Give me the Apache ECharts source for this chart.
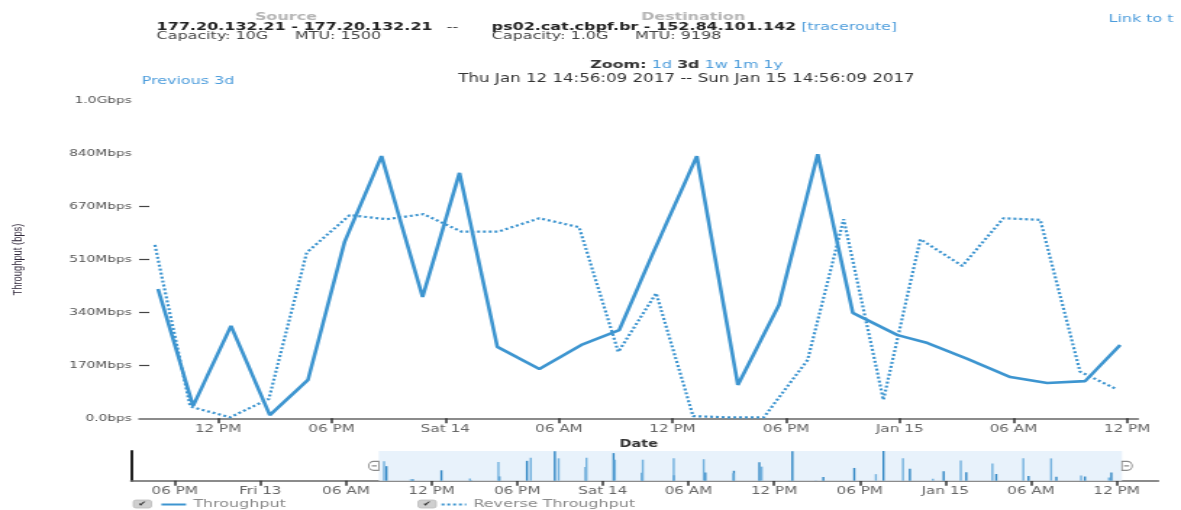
<!DOCTYPE html>
<html>
<head>
<meta charset="utf-8">
<title>Throughput</title>
<script src="https://cdn.jsdelivr.net/npm/echarts@6/dist/echarts.min.js"></script>
<style>
  html, body { margin: 0; padding: 0; background: #fff; overflow: hidden; }
  #wrap { width: 815px; height: 510px; transform: scaleX(1.44908); transform-origin: 0 0; }
  #chart { width: 815px; height: 510px; }
</style>
</head>
<body>
<div id="wrap"><div id="chart"></div></div>
<script>
// Throughput test results (Mbps), forward direction
const throughputTimes = [
  '2017-01-13 08:50', '2017-01-13 10:41', '2017-01-13 12:41', '2017-01-13 14:44',
  '2017-01-13 16:45', '2017-01-13 18:41', '2017-01-13 20:38', '2017-01-13 22:48',
  '2017-01-14 00:45', '2017-01-14 02:45', '2017-01-14 04:58', '2017-01-14 07:11',
  '2017-01-14 09:11', '2017-01-14 10:58', '2017-01-14 13:17', '2017-01-14 15:27',
  '2017-01-14 17:37', '2017-01-14 19:40', '2017-01-14 21:31', '2017-01-14 23:53',
  '2017-01-15 01:28', '2017-01-15 03:34', '2017-01-15 05:50', '2017-01-15 07:47',
  '2017-01-15 09:47', '2017-01-15 11:38'
];
const throughputMbps = [407, 39, 291, 10, 121, 556, 826, 382, 773, 225, 155, 231, 278,
  520, 826, 105, 357, 832, 332, 262, 237, 187, 130, 111, 117, 231];

// Reverse direction results (Mbps)
const reverseTimes = [
  '2017-01-13 08:40', '2017-01-13 10:32', '2017-01-13 12:38', '2017-01-13 14:41',
  '2017-01-13 16:41', '2017-01-13 18:57', '2017-01-13 20:54', '2017-01-13 22:51',
  '2017-01-14 00:51', '2017-01-14 02:48', '2017-01-14 04:58', '2017-01-14 07:04',
  '2017-01-14 09:08', '2017-01-14 11:08', '2017-01-14 13:05', '2017-01-14 14:55',
  '2017-01-14 16:49', '2017-01-14 19:08', '2017-01-14 21:02', '2017-01-14 23:08',
  '2017-01-15 01:05', '2017-01-15 03:18', '2017-01-15 05:28', '2017-01-15 07:25',
  '2017-01-15 09:31', '2017-01-15 11:28'
];
const reverseMbps = [546, 37, 3, 61, 522, 640, 627, 643, 588, 588, 630, 602, 209,
  394, 7, 3, 3, 184, 627, 58, 564, 480, 630, 625, 147, 91];

// Y axis: 0 .. 1 Gbps in six steps
const yMaxMbps = 1000;
const yTickLabels = ['0.0bps', '170Mbps', '340Mbps', '510Mbps', '670Mbps', '840Mbps', '1.0Gbps'];
const yTickMarkSteps = [1, 2, 3, 4];

// Main (zoomed) time axis
const mainRange = ['2017-01-13 07:50', '2017-01-15 12:35'];
const mainTickTimes = ['2017-01-13 12:00', '2017-01-13 18:00', '2017-01-14 00:00', '2017-01-14 06:00',
  '2017-01-14 12:00', '2017-01-14 18:00', '2017-01-15 00:00', '2017-01-15 06:00', '2017-01-15 12:00'];
const mainTickLabels = ['12 PM', '06 PM', 'Sat 14', '06 AM', '12 PM', '06 PM', 'Jan 15', '06 AM', '12 PM'];

// Overview (navigator) time axis and selected window
const navRange = ['2017-01-12 14:56', '2017-01-15 14:56'];
const navWindow = ['2017-01-13 08:18', '2017-01-15 12:23'];
const navTickTimes = ['2017-01-12 18:00', '2017-01-13 00:00', '2017-01-13 06:00', '2017-01-13 12:00',
  '2017-01-13 18:00', '2017-01-14 00:00', '2017-01-14 06:00', '2017-01-14 12:00', '2017-01-14 18:00',
  '2017-01-15 00:00', '2017-01-15 06:00', '2017-01-15 12:00'];
const navTickLabels = ['06 PM', 'Fri 13', '06 AM', '12 PM', '06 PM', 'Sat 14', '06 AM', '12 PM',
  '06 PM', 'Jan 15', '06 AM', '12 PM'];

// timestamps in epoch milliseconds (UTC)
function toMs(s) {
  const [d, t] = s.split(' ');
  const [Y, M, D] = d.split('-').map(Number);
  const [h, m] = t.split(':').map(Number);
  return Date.UTC(Y, M - 1, D, h, m, 0);
}
const pairs = (times, vals) => times.map((t, i) => [toMs(t), vals[i]]);

const mainTickMs = mainTickTimes.map(toMs);
const navTickMs = navTickTimes.map(toMs);
const yStep = yMaxMbps / 6;
const labelAt = (ticks, labels) => v => {
  const i = ticks.findIndex(t => Math.abs(t - v) < 1000);
  return i < 0 ? '' : labels[i];
};

const FONT = 'DejaVu Sans';
const BLUE = '#3d95d0';
const LINK = '#4d9ddc';
const navMid = Math.max(...throughputMbps, ...reverseMbps) / 2;

const chart = echarts.init(document.getElementById('chart'), null, { renderer: 'canvas' });

const txt = (x, y, text, o = {}) => ({
  type: 'text', x, y, silent: true,
  style: Object.assign({ text, fill: '#333', fontFamily: FONT, fontSize: 11, verticalAlign: 'middle' }, o)
});
const checkbox = x => ({
  type: 'group', x, y: 500, silent: true,
  children: [
    { type: 'rect', shape: { x: 0, y: 0, width: 12.5, height: 8, r: 2 }, style: { fill: '#cfcfcf', stroke: '#bdbdbd', lineWidth: 0.8 } },
    { type: 'text', x: 6.25, y: 4.2, style: { text: '✔', fill: '#333', fontSize: 7, fontFamily: FONT, align: 'center', verticalAlign: 'middle' } }
  ]
});
const legendBase = {
  top: 499, itemWidth: 17, itemHeight: 10, padding: 0,
  itemStyle: { opacity: 0 },
  textStyle: { color: '#8a8a8a', fontSize: 11, fontFamily: FONT }
};

chart.setOption({
  animation: false,
  backgroundColor: '#fff',
  textStyle: { fontFamily: FONT },
  grid: [
    { left: 94.5, right: 29.6, top: 100.8, bottom: 91.7 },
    { left: 90.4, right: 15.6, top: 451, bottom: 29.3 }
  ],
  legend: [
    Object.assign({ data: ['Throughput'], left: 110.4 }, legendBase),
    Object.assign({ data: ['Reverse Throughput'], left: 303.7 }, legendBase)
  ],
  xAxis: [
    {
      type: 'value', gridIndex: 0,
      min: toMs(mainRange[0]), max: toMs(mainRange[1]),
      name: 'Date', nameLocation: 'middle', nameGap: 14,
      nameTextStyle: { fontWeight: 'bold', fontSize: 10, color: '#333', fontFamily: FONT },
      axisLine: { onZero: false, lineStyle: { color: '#666', width: 1.5 } },
      axisTick: { customValues: mainTickMs, length: 5, lineStyle: { color: '#333', width: 1.5 } },
      axisLabel: {
        customValues: mainTickMs, margin: 5, fontSize: 10.5, color: '#666', fontFamily: FONT,
        formatter: labelAt(mainTickMs, mainTickLabels)
      },
      splitLine: { show: false }
    },
    {
      type: 'value', gridIndex: 1,
      min: toMs(navRange[0]), max: toMs(navRange[1]),
      axisLine: { onZero: false, lineStyle: { color: '#666', width: 1.5 } },
      axisTick: { customValues: navTickMs, length: 5, lineStyle: { color: '#333', width: 1.5 } },
      axisLabel: {
        customValues: navTickMs, margin: 5, fontSize: 10.5, color: '#666', fontFamily: FONT,
        formatter: labelAt(navTickMs, navTickLabels)
      },
      splitLine: { show: false }
    }
  ],
  yAxis: [
    {
      type: 'value', gridIndex: 0, min: 0, max: yMaxMbps, interval: yStep,
      name: 'Throughput (bps)', nameLocation: 'middle', nameGap: 79, nameRotate: 90,
      nameTextStyle: { fontSize: 9.4, color: '#2e2638', fontFamily: 'Liberation Sans' },
      axisLine: { show: false },
      axisTick: {
        show: true, inside: true, length: 7,
        customValues: yTickMarkSteps.map(k => k * yStep),
        lineStyle: { color: '#444', width: 1.2 }
      },
      axisLabel: {
        margin: 5, fontSize: 9.5, color: '#555', fontFamily: FONT,
        formatter: v => yTickLabels[Math.round(v / yStep)]
      },
      splitLine: { show: false }
    },
    {
      type: 'value', gridIndex: 1, min: 0, max: 'dataMax',
      axisLine: { show: true, onZero: false, lineStyle: { color: '#222', width: 2 } },
      axisTick: { show: false }, axisLabel: { show: false }, splitLine: { show: false }
    }
  ],
  series: [
    {
      name: 'Throughput', type: 'line', xAxisIndex: 0, yAxisIndex: 0,
      data: pairs(throughputTimes, throughputMbps),
      showSymbol: false, color: BLUE,
      lineStyle: { color: BLUE, width: 2.6 }
    },
    {
      name: 'Reverse Throughput', type: 'line', xAxisIndex: 0, yAxisIndex: 0,
      data: pairs(reverseTimes, reverseMbps),
      showSymbol: false, color: BLUE,
      lineStyle: { color: BLUE, width: 2.2, type: [2, 2] }
    },
    {
      name: 'Throughput overview', type: 'bar', xAxisIndex: 1, yAxisIndex: 1,
      data: pairs(throughputTimes, throughputMbps),
      barWidth: 1.4, barGap: '-100%', color: '#2f86c4', z: 3,
      markArea: {
        silent: true,
        itemStyle: { color: '#e8f2fb' },
        data: [[{ xAxis: toMs(navWindow[0]) }, { xAxis: toMs(navWindow[1]) }]]
      },
      markPoint: {
        silent: true,
        symbolSize: [7, 9],
        itemStyle: { color: '#fff', borderColor: '#8c8c8c', borderWidth: 1 },
        label: { show: false },
        data: [
          { coord: [toMs(navWindow[0]), navMid], symbol: 'path://M10,0 L5,0 A5,5 0 0 0 5,10 L10,10 Z M3,5 L8,5', symbolOffset: [-3.5, 0] },
          { coord: [toMs(navWindow[1]), navMid], symbol: 'path://M0,0 L5,0 A5,5 0 0 1 5,10 L0,10 Z M2,5 L7,5', symbolOffset: [3.5, 0] }
        ]
      }
    },
    {
      name: 'Reverse overview', type: 'bar', xAxisIndex: 1, yAxisIndex: 1,
      data: pairs(reverseTimes, reverseMbps),
      barWidth: 1.4, barGap: '-100%', color: '#72b1de', z: 3
    }
  ],
  graphic: [
    txt(197.3, 16.7, 'Source', { fill: '#b5b5b5', fontWeight: 'bold', align: 'center' }),
    txt(478.3, 16.7, 'Destination', { fill: '#b5b5b5', fontWeight: 'bold', align: 'center' }),
    txt(108.1, 26.7, '177.20.132.21 - 177.20.132.21', { fill: '#222', fontWeight: 'bold' }),
    txt(308.3, 26.7, '--', { fill: '#333' }),
    txt(339.3, 26.7, '{b|ps02.cat.cbpf.br - 152.84.101.142} {l|[traceroute]}', {
      rich: {
        b: { fontFamily: FONT, fontSize: 11, fontWeight: 'bold', fill: '#222' },
        l: { fontFamily: FONT, fontSize: 11, fill: LINK }
      }
    }),
    txt(108.1, 36.6, 'Capacity: 10G', { fill: '#444' }),
    txt(203.6, 36.6, 'MTU: 1500', { fill: '#444' }),
    txt(339.3, 36.6, 'Capacity: 1.0G', { fill: '#444' }),
    txt(438.2, 36.6, 'MTU: 9198', { fill: '#444' }),
    txt(765, 19, 'Link to this chart', { fill: LINK, width: 48.5, overflow: 'truncate', ellipsis: '' }),
    txt(407.2, 65, '{b|Zoom:} {l|1d} {b|3d} {l|1w 1m 1y}', {
      rich: {
        b: { fontFamily: FONT, fontSize: 11, fontWeight: 'bold', fill: '#333' },
        l: { fontFamily: FONT, fontSize: 11, fill: LINK }
      }
    }),
    txt(316.3, 79.5, 'Thu Jan 12 14:56:09 2017 -- Sun Jan 15 14:56:09 2017', { fill: '#333', fontSize: 11.5 }),
    txt(97.8, 80.8, 'Previous 3d', { fill: LINK }),
    // legend checkboxes
    checkbox(92),
    checkbox(288.5)
  ]
});
</script>
</body>
</html>
